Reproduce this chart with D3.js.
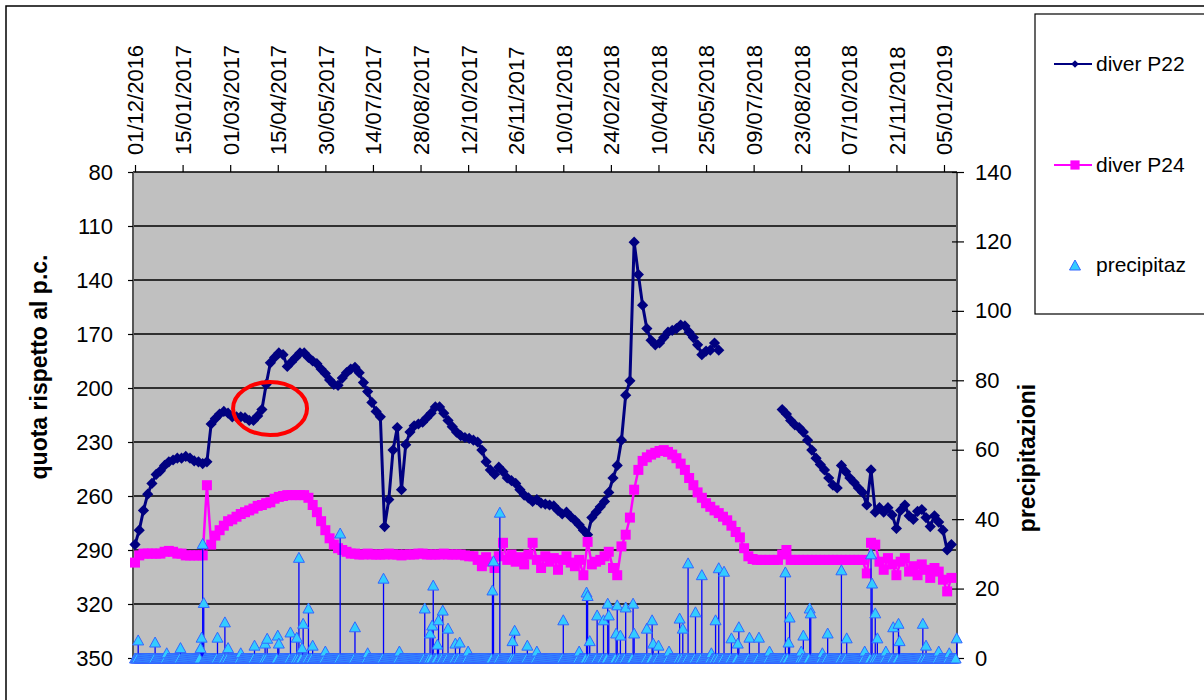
<!DOCTYPE html>
<html>
<head>
<meta charset="utf-8">
<script src="https://cdn.jsdelivr.net/npm/d3@7"></script>
<style>
  body { margin: 0; background: #fff; }
  svg { display: block; font-family: "Liberation Sans", Arial, sans-serif; }
</style>
</head>
<body>
<div id="chart"></div>
<script>
// date labels on the top axis (every 45 days)
const dateTicks = ["01/12/2016", "15/01/2017", "01/03/2017", "15/04/2017", "30/05/2017", "14/07/2017",
    "28/08/2017", "12/10/2017", "26/11/2017", "10/01/2018", "24/02/2018", "10/04/2018",
    "25/05/2018", "09/07/2018", "23/08/2018", "07/10/2018", "21/11/2018", "05/01/2019"];
const leftTicks = [80, 110, 140, 170, 200, 230, 260, 290, 320, 350];
const rightTicks = [0, 20, 40, 60, 80, 100, 120, 140];

// diver readings, one every 4 days from 01/12/2016 (null = no reading)
const stepDays = 4;
const p22Values = [
    287, 279, 268, 259, 253, 248, 246, 243, 241, 240,
    239, 239, 238, 239, 240.5, 241, 242, 241, 220, 217,
    214.5, 213, 214, 216, 216, 216, 216.5, 218, 218, 215.5,
    212, 198, 186, 183, 180.5, 181.5, 188, 185.5, 183, 180.5,
    180.5, 183, 185, 186.5, 189.5, 192, 195.5, 198, 198.5, 194.5,
    191.5, 189.5, 188.5, 191.5, 197, 202, 208, 213, 216, 277,
    262, 234.5, 222, 256.5, 231.5, 224.5, 221, 220, 219, 216.5,
    214, 210.5, 210.5, 214, 218, 221.5, 224.5, 226.5, 227.5, 228,
    229, 230, 234.5, 241, 245.5, 248, 244, 246.5, 250, 251.5,
    253, 256.5, 259.5, 261, 263, 262, 264, 264.5, 265, 265.5,
    268, 270, 269, 271.5, 273.5, 276, 279, 281.5, 272, 269,
    266, 263, 258, 250, 243, 229, 204, 196, 119, 137,
    154, 167, 173.5, 176, 175, 172, 169, 168, 167, 165,
    165.5, 169, 172, 176, 181.5, 179.5, 179, 175, 179,
    null, null, null, null, null, null, null, null, null, null, null, null, null, null,
    212, 214.5, 218, 220.5, 222, 224.5, 229, 234.5, 239, 242.5,
    245.5, 250, 254, 255.5, 243, 246.5, 250, 252.5, 255.5, 258,
    265, 245.5, 269, 266.5, 269, 266.5, 270.5, 278, 268, 265, 271,
    273, 268.5, 267.5, 272, 277, 271, 274.5, 279, 290, 287
];
const p24Values = [
    297, 293, 292, 292, 292, 292, 292, 291, 290.5, 291,
    292, 292, 293, 293, 293, 293, 293, 254, 287, 282,
    279, 276.5, 274, 273, 271.5, 270, 269, 268, 267, 265.5,
    265, 264, 263.5, 261.5, 260.5, 260, 259.5, 259.5, 259.5, 259.5,
    259.5, 261, 265, 269, 274, 279, 283.5, 287, 289, 290,
    291, 292, 292, 292.5, 292.5, 292, 292.5, 292.5, 292.5, 292.5,
    292, 292.5, 292.5, 293, 292.5, 292.5, 292.5, 292, 292, 292.5,
    292.5, 292.5, 292.5, 292, 292.5, 292.5, 292.5, 292.5, 293, 293.5,
    293.5, 295.5, 299, 294, 296.5, 300, 293.5, 286, 295.5, 292.5,
    296.5, 294, 298, 292.5, 286, 295.5, 300, 293.5, 296.5, 294.5,
    301, 295.5, 293.5, 297, 299, 295.5, 304, 285.5, 298, 296.5,
    295.5, 293.5, 291, 300, 304, 288, 281.5, 272, 256.5, 245.5,
    240.5, 238.5, 237, 236, 235, 234.5, 235.5, 237, 239, 242,
    245.5, 250, 254, 258, 261, 264, 266, 268, 269.5, 271.5,
    273.5, 276.5, 280, 283, 289, 293.5, 295, 295.5, 295.5, 295.5,
    295.5, 295.5, 295.5, 292.5, 290, 295.5, 295.5, 295.5, 295.5, 295.5,
    295.5, 295.5, 295.5, 295.5, 295.5, 295.5, 295.5, 295.5, 295.5, 295.5,
    295.5, 295.5, 295.5, 303, 286, 287, 296.5, 301, 294.5, 298,
    304, 296.5, 294.5, 302, 299, 304, 298, 301, 305.5, 300,
    302, 306.5, 313, 305.5
];

// rainy days (days after 01/12/2016) and mm; every other day is 0
const rainDays = [3, 19, 30, 43, 62, 63, 64, 65, 78, 85, 88, 100, 113, 123, 125, 135, 136, 147, 153, 155,
    158, 159, 164, 168, 180, 194, 208, 220, 235, 250, 274, 279, 281, 282, 286, 287, 291, 296, 303, 307,
    315, 338, 339, 345, 357, 359, 371, 380, 405, 420, 427, 428, 430, 437, 443, 447, 448, 455, 456, 459,
    464, 471, 472, 484, 489, 490, 495, 505, 515, 518, 523, 530, 536, 545, 549, 552, 557, 564, 570, 571,
    581, 590, 600, 615, 618, 619, 630, 632, 638, 639, 650, 655, 668, 673, 690, 696, 697, 700, 702, 710,
    717, 722, 723, 745, 748, 760, 770, 777];
const rainMm = [5.2, 4.6, 1.5, 3, 3, 6, 33, 16, 6, 10.4, 3, 1.5, 3.7, 4.3, 5.7, 6.6, 4.3, 7.5, 6, 29,
    3, 10, 14.4, 3.7, 2, 36, 9, 1.5, 23, 2, 14.4, 7.2, 9.5, 21, 4, 11, 13.8, 8.6, 4.3, 4.6,
    2, 19.6, 28, 42, 5, 8, 3.7, 2, 11, 2, 19, 18, 5, 12.4, 11, 15.8, 12.4, 7.2, 15.3, 6.6,
    14.7, 15.8, 7.2, 8.6, 11, 4.3, 3.7, 2, 11.5, 8.6, 27.4, 13.3, 24, 1.5, 11, 26, 25, 5.8, 4.3, 9,
    6, 6, 2, 24.8, 4.6, 11.8, 2, 6.6, 14.4, 13, 1.5, 7.2, 25.4, 5.8, 2, 30, 21.6, 13, 5.8, 2,
    9, 10, 5, 10, 3.7, 2, 1.5, 5.8];
const lastDay = 777;

const W = 1204, H = 700;
const plot = { left: 133, right: 957, top: 172, bottom: 658 };
const DAY = 864e5;
const start = Date.UTC(2016, 11, 1);

const svg = d3.select('#chart').append('svg')
    .attr('width', W)
    .attr('height', H);

const x = d3.scaleUtc()
    .domain([new Date(start - 1.9 * DAY), new Date(start + 777.3 * DAY)])
    .range([plot.left, plot.right]);
const yL = d3.scaleLinear().domain([80, 350]).range([plot.top, plot.bottom]);
const yR = d3.scaleLinear().domain([0, 140]).range([plot.bottom, plot.top]);

const parse = d3.utcParse('%d/%m/%Y');
const fmt = d3.utcFormat('%d/%m/%Y');

const p22 = p22Values.map((v, i) => ({ date: new Date(start + i * stepDays * DAY), v }));
const p24 = p24Values.map((v, i) => ({ date: new Date(start + i * stepDays * DAY), v }));
const rainMap = new Map(rainDays.map((d, i) => [d, rainMm[i]]));
const rain = d3.range(0, lastDay + 1).map(d => ({ date: new Date(start + d * DAY), v: rainMap.get(d) || 0 }));

// outer chart frame
svg.append('path')
    .attr('d', `M6,${H} V6 H${W}`)
    .attr('fill', 'none')
    .attr('stroke', '#000')
    .attr('stroke-width', 1.5);

// plot background
svg.append('rect')
    .attr('x', plot.left).attr('y', plot.top)
    .attr('width', plot.right - plot.left)
    .attr('height', plot.bottom - plot.top)
    .attr('fill', '#c0c0c0');

// gridlines
svg.append('g').selectAll('line')
    .data(leftTicks)
    .enter().append('line')
    .attr('x1', plot.left).attr('x2', plot.right)
    .attr('y1', d => yL(d)).attr('y2', d => yL(d))
    .attr('stroke', '#000')
    .attr('stroke-width', 1.5);

// side borders of the plot
svg.append('line')
    .attr('x1', plot.left).attr('x2', plot.left)
    .attr('y1', plot.top).attr('y2', plot.bottom)
    .attr('stroke', '#555').attr('stroke-width', 2);
svg.append('line')
    .attr('x1', plot.right).attr('x2', plot.right)
    .attr('y1', plot.top).attr('y2', plot.bottom)
    .attr('stroke', '#555').attr('stroke-width', 2);

const styleAxis = (g, size) => {
    g.select('.domain').remove();
    g.selectAll('line').attr('stroke', '#000').attr('stroke-width', 1.2);
    g.selectAll('text')
        .attr('font-size', size)
        .attr('font-family', '"Liberation Sans", Arial, sans-serif')
        .attr('fill', '#000');
};

// left axis
svg.append('g')
    .attr('transform', `translate(${plot.left},0)`)
    .call(d3.axisLeft(yL).tickValues(leftTicks).tickSize(5).tickPadding(15))
    .call(g => styleAxis(g, 22));

// right axis
svg.append('g')
    .attr('transform', `translate(${plot.right - 5},0)`)
    .call(d3.axisRight(yR).tickValues(rightTicks).tickSize(12).tickPadding(11))
    .call(g => styleAxis(g, 22));

// top date axis
svg.append('g')
    .attr('transform', `translate(0,${plot.top})`)
    .call(d3.axisTop(x).tickValues(dateTicks.map(parse)).tickFormat(fmt).tickSize(7))
    .call(g => styleAxis(g, 22))
    .call(g => g.selectAll('text')
        .attr('transform', 'rotate(-90)')
        .attr('x', 17)
        .attr('y', 0)
        .attr('dy', '0.36em')
        .attr('text-anchor', 'start'));

// axis titles
svg.append('text')
    .attr('transform', 'translate(47,367) rotate(-90)')
    .attr('text-anchor', 'middle')
    .attr('font-size', 23)
    .attr('font-weight', 'bold')
    .text('quota rispetto al p.c.');
svg.append('text')
    .attr('transform', 'translate(1035,458) rotate(-90)')
    .attr('text-anchor', 'middle')
    .attr('font-size', 23)
    .attr('font-weight', 'bold')
    .text('precipitazioni');

// marker shapes
const diamond = s => `M0,${-s}L${s},0L0,${s}L${-s},0Z`;
const square = s => `M${-s},${-s}H${s}V${s}H${-s}Z`;
const triangle = s => `M0,${-s}L${s * 1.1},${s}L${-s * 1.1},${s}Z`;

const defined = d => d.v != null;

// diver P22
const lineL = d3.line().defined(defined).x(d => x(d.date)).y(d => yL(d.v));
svg.append('path')
    .datum(p22)
    .attr('d', lineL)
    .attr('fill', 'none')
    .attr('stroke', '#000080')
    .attr('stroke-width', 3);
svg.append('g').selectAll('path')
    .data(p22.filter(defined))
    .enter().append('path')
    .attr('transform', d => `translate(${x(d.date)},${yL(d.v)})`)
    .attr('d', diamond(5.6))
    .attr('fill', '#000080');

// diver P24
svg.append('path')
    .datum(p24)
    .attr('d', lineL)
    .attr('fill', 'none')
    .attr('stroke', '#ff00ff')
    .attr('stroke-width', 2.5);
svg.append('g').selectAll('path')
    .data(p24.filter(defined))
    .enter().append('path')
    .attr('transform', d => `translate(${x(d.date)},${yL(d.v)})`)
    .attr('d', square(5))
    .attr('fill', '#ff00ff');

// precipitazioni: drop lines + triangles
svg.append('g').selectAll('line')
    .data(rain.filter(d => d.v > 0))
    .enter().append('line')
    .attr('x1', d => x(d.date)).attr('x2', d => x(d.date))
    .attr('y1', yR(0)).attr('y2', d => yR(d.v))
    .attr('stroke', '#0000ff')
    .attr('stroke-width', 1.3);
svg.append('g').selectAll('path')
    .data(rain)
    .enter().append('path')
    .attr('transform', d => `translate(${x(d.date)},${yR(d.v)})`)
    .attr('d', triangle(5))
    .attr('fill', '#33ccff')
    .attr('stroke', '#3366ff')
    .attr('stroke-width', 1);

// red annotation ellipse
svg.append('ellipse')
    .attr('cx', x(new Date(start + 127.7 * DAY)))
    .attr('cy', yL(211.4))
    .attr('rx', 37)
    .attr('ry', 26.5)
    .attr('fill', 'none')
    .attr('stroke', '#ff0000')
    .attr('stroke-width', 4);

// legend
const legend = svg.append('g');
legend.append('rect')
    .attr('x', 1035).attr('y', 14)
    .attr('width', 200).attr('height', 300)
    .attr('fill', '#fff')
    .attr('stroke', '#000')
    .attr('stroke-width', 1.2);

const legendItems = [
    { label: 'diver P22', color: '#000080', y: 64, shape: diamond(3.8), line: true },
    { label: 'diver P24', color: '#ff00ff', y: 165, shape: square(4.6), line: true },
    { label: 'precipitaz', color: '#33ccff', y: 265, shape: triangle(5), line: false }
];
legendItems.forEach(it => {
    if (it.line) {
        legend.append('line')
            .attr('x1', 1054).attr('x2', 1092)
            .attr('y1', it.y).attr('y2', it.y)
            .attr('stroke', it.color).attr('stroke-width', 2);
    }
    legend.append('path')
        .attr('transform', `translate(1075,${it.y})`)
        .attr('d', it.shape)
        .attr('fill', it.color)
        .attr('stroke', it.line ? 'none' : '#3366ff');
    legend.append('text')
        .attr('x', 1096).attr('y', it.y)
        .attr('dy', '0.35em')
        .attr('font-size', 21)
        .text(it.label);
});
</script>
</body>
</html>
